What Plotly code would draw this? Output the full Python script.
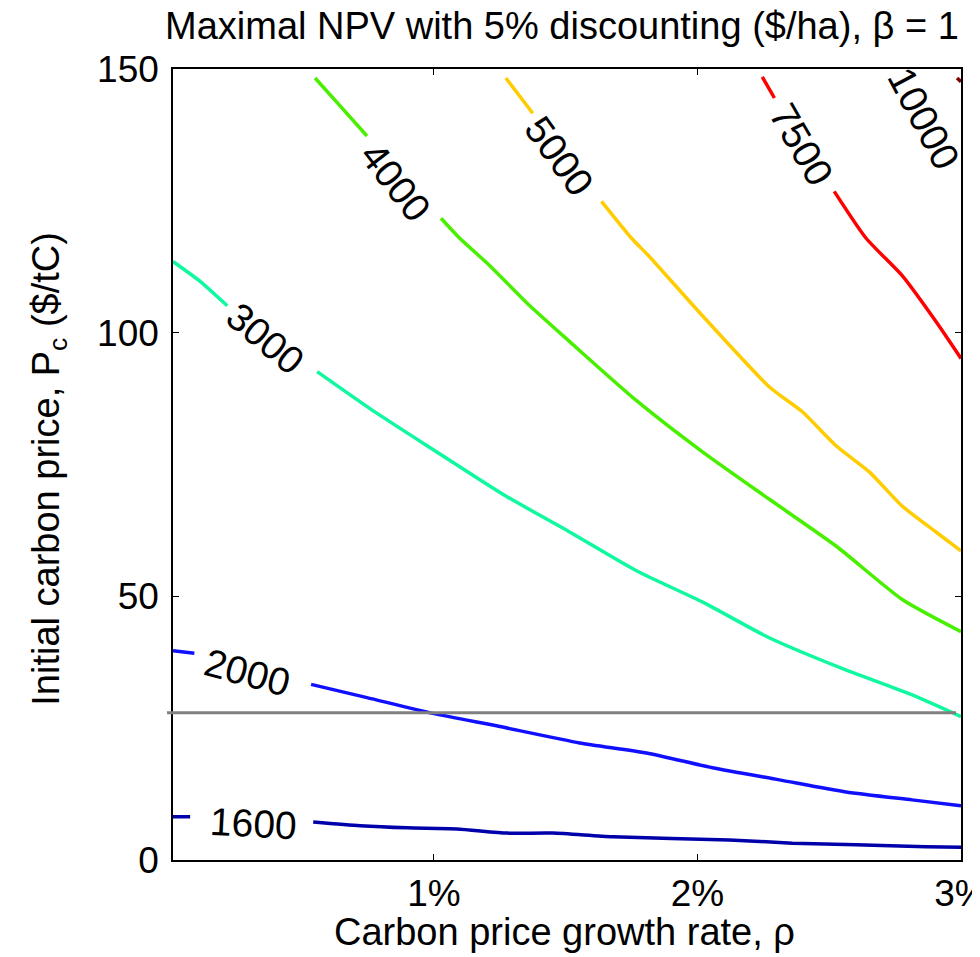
import plotly.graph_objects as go

# ---- data (x: carbon price growth rate as fraction, y: initial carbon price $/tC)
levels = ["1600", "2000", "3000", "4000", "5000", "7500", "10000"]
colors = ["#0000AA", "#1010FF", "#10F8A0", "#48F000", "#FFCC00", "#FF0000", "#800000"]

# each contour drawn as pieces separated by label gaps (None = break)
x_1600 = [0.0001, 0.00075, None, 0.00542, 0.0072, 0.00898, 0.01087, 0.01277, 0.01451, 0.01678, 0.02121, 0.0236, 0.02602, 0.02867, 0.03]
y_1600 = [8.2, 8.2, None, 7.2, 6.5, 6.1, 5.9, 5.1, 5.1, 4.4, 3.8, 3.2, 2.9, 2.5, 2.4]

x_2000 = [0.0001, 0.00091, None, 0.00534, 0.00746, 0.00996, 0.0125, 0.01553, 0.01807, 0.02057, 0.02311, 0.02564, 0.02814, 0.03]
y_2000 = [39.7, 39.2, None, 33.3, 30.8, 27.8, 25.3, 22.2, 20.3, 17.5, 15.2, 12.9, 11.4, 10.3]

x_3000 = [0.0001, 0.00114, 0.00216, None, 0.00557, 0.0076, 0.0101, 0.0126, 0.01515, 0.0177, 0.0202, 0.0227, 0.0256, 0.0281, 0.03]
y_3000 = [113.5, 109.7, 105.1, None, 92.6, 85.5, 77.4, 69.4, 62.2, 54.8, 48.9, 42.2, 36.1, 31.4, 27.2]

x_4000 = [0.00549, 0.00644, 0.00746, None, 0.01027, 0.01098, 0.01212, 0.01364, 0.01515, 0.01769, 0.02019, 0.02273, 0.02527, 0.02777, 0.03]
y_4000 = [148.3, 143.0, 137.3, None, 121.7, 117.9, 112.7, 105.1, 98.3, 87.1, 77.4, 68.4, 59.5, 49.4, 43.3]

x_5000 = [0.01273, 0.01375, None, 0.01636, 0.0175, 0.01818, 0.02019, 0.02273, 0.02398, 0.02527, 0.02652, 0.02777, 0.02905, 0.03]
y_5000 = [148.3, 141.6, None, 124.9, 117.9, 114.4, 103.2, 89.7, 85.0, 78.5, 73.6, 67.1, 62.2, 58.6]

x_7500 = [0.02246, 0.02292, None, 0.02519, 0.0264, 0.02777, 0.02905, 0.03]
y_7500 = [148.5, 144.5, None, 126.8, 117.9, 110.8, 102.1, 95.1]

x_10000 = [0.02985, 0.03]
y_10000 = [148.3, 147.6]

# contour label positions and orientation
label_x = [0.00314, 0.00292, 0.0036, 0.00856, 0.01477, 0.02394, 0.0286]
label_y = [7.0, 35.6, 98.9, 128.5, 133.5, 135.7, 140.7]
label_angle = [3, 15, 40, 52, 54, 60, 62]

reference_price = 27.9  # horizontal gray reference line ($/tC)

x_ticks = [0.01, 0.02, 0.03]
x_ticktext = ["1%", "2%", "3%"]
y_ticks = [0, 50, 100, 150]

title_text = "Maximal NPV with 5% discounting ($/ha), β = 1"
x_title = "Carbon price growth rate, ρ"
y_title = "Initial carbon price, P<sub>c</sub> ($/tC)"

series_x = [x_1600, x_2000, x_3000, x_4000, x_5000, x_7500, x_10000]
series_y = [y_1600, y_2000, y_3000, y_4000, y_5000, y_7500, y_10000]

FONT = "Liberation Sans, Arial, sans-serif"

fig = go.Figure()
for lev, col, xs, ys in zip(levels, colors, series_x, series_y):
    fig.add_trace(go.Scatter(x=xs, y=ys, mode="lines", name=lev,
                             line=dict(color=col, width=3.5, shape="spline", smoothing=0.6),
                             connectgaps=False, showlegend=False, hoverinfo="skip"))

for lev, lx, ly, ang in zip(levels, label_x, label_y, label_angle):
    fig.add_annotation(x=lx, y=ly, text=lev, showarrow=False, textangle=ang,
                       font=dict(family=FONT, size=39, color="black"),
                       xanchor="center", yanchor="middle")

fig.add_shape(type="line", xref="paper", yref="y", x0=-0.0076, x1=0.9937,
              y0=reference_price, y1=reference_price,
              line=dict(color="#808080", width=3), layer="above")

# titles as annotations for exact placement
fig.add_annotation(xref="paper", yref="paper", x=0.494, y=1.0544, text=title_text,
                   showarrow=False, xanchor="center", yanchor="middle",
                   font=dict(family=FONT, size=38, color="black"))
fig.add_annotation(xref="paper", yref="paper", x=0.497, y=-0.091, text=x_title,
                   showarrow=False, xanchor="center", yanchor="middle",
                   font=dict(family=FONT, size=38, color="black"))
fig.add_annotation(xref="paper", yref="paper", x=-0.157, y=0.495, text=y_title,
                   showarrow=False, xanchor="center", yanchor="middle", textangle=-90,
                   font=dict(family=FONT, size=38, color="black"))

# page body has an 8px default margin, so the figure is 8px smaller and margins shifted
fig.update_layout(
    width=972, height=949,
    margin=dict(l=165, r=19, t=61, b=97, autoexpand=False),
    paper_bgcolor="white", plot_bgcolor="white",
    font=dict(family=FONT, size=37, color="black"),
)
fig.update_xaxes(range=[0.0001, 0.03], tickvals=x_ticks, ticktext=x_ticktext,
                 ticks="inside", ticklen=6, tickcolor="black", showline=True,
                 linecolor="black", linewidth=1.5, mirror="ticks", showgrid=False,
                 zeroline=False, tickfont=dict(size=37), automargin=False,
                 ticklabeloverflow="allow", ticklabelstandoff=0)
fig.update_yaxes(range=[0, 150], tickvals=y_ticks,
                 ticks="inside", ticklen=6, tickcolor="black", showline=True,
                 linecolor="black", linewidth=1.5, mirror="ticks", showgrid=False,
                 zeroline=False, tickfont=dict(size=37), automargin=False,
                 ticklabeloverflow="allow", ticklabelstandoff=5)

fig.write_html("out.html")
